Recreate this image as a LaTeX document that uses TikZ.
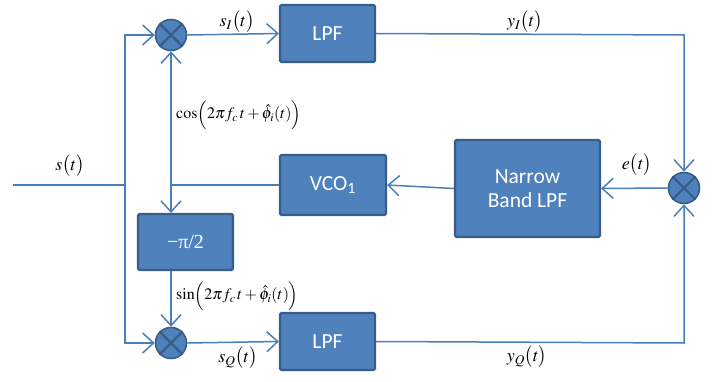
\documentclass[tikz,border=0pt]{standalone}
\usepackage{mathptmx}
\usepackage[no-math]{fontspec}
\setmainfont{Carlito}
\newfontfamily\timesfont{Liberation Serif}
\usetikzlibrary{arrows.meta}
\definecolor{boxfill}{HTML}{4F81BD}
\definecolor{boxedge}{HTML}{385D8A}
\definecolor{wire}{HTML}{4A7EBB}
\tikzset{
  blk/.style={draw=boxedge,fill=boxfill,line width=2.2pt,rounded corners=1.5pt,
    text=white,font=\fontsize{21.5}{24}\selectfont,align=center,inner sep=0pt},
  mixer/.style={circle,draw=boxedge,fill=boxfill,line width=1.6pt,minimum size=31pt,inner sep=0pt},
  cross/.style={draw=boxedge,line width=2.2pt},
  wireline/.style={draw=wire,line width=1.5pt},
  arr/.style={wireline,-{Straight Barb[length=11pt,width=20pt,line width=1.5pt]}},
  lbl/.style={font=\fontsize{18}{20}\selectfont,inner sep=0pt},
  slbl/.style={font=\fontsize{16}{18}\selectfont,inner sep=0pt}
}
\begin{document}
\begin{tikzpicture}[x=1pt,y=-1pt]
\useasboundingbox (0,0) rectangle (713,382);
% mixers, each with its cross
\node[mixer] (m1) at (171,35) {};
\node[mixer] (m2) at (171,343) {};
\node[mixer] (m3) at (684,188) {};
\foreach \m in {m1,m2,m3}{
  \draw[cross] (\m.north west) -- (\m.south east) (\m.north east) -- (\m.south west);
}
% blocks
\node[blk,minimum width=95pt,minimum height=57pt] (lpf1) at (327.5,33.5) {LPF};
\node[blk,minimum width=95pt,minimum height=57pt] (lpf2) at (327.5,341.5) {LPF};
\node[blk,minimum width=106pt,minimum height=60pt] (vco) at (333,185) {VCO\textsubscript{1}};
\node[blk,minimum width=145pt,minimum height=97pt] (nb) at (527.5,188.5) {Narrow\\Band LPF};
\node[blk,minimum width=95pt,minimum height=56pt,font=\timesfont\fontsize{20}{22}\selectfont] (ph) at (185.5,242) {−π/2};
% junction points
\coordinate (in) at (13,185);
\coordinate (split) at (125,185);
\coordinate (top) at (125,35);
\coordinate (bot) at (125,343);
\coordinate (lo) at (171,185);
\coordinate (rt) at (684,35);
\coordinate (rb) at (684,343);
% input and its split
\draw[wireline] (in) -- (split);
\draw[arr] (split) -- (top) -- (m1.west);
\draw[arr] (split) -- (bot) -- (m2.west);
% mixers to filters
\draw[arr] (m1.east) -- (lpf1.west);
\draw[arr] (m2.east) -- (lpf2.west);
% filter outputs to the error mixer
\draw[arr] (lpf1.east) -- (rt) -- (m3.north);
\draw[arr] (lpf2.east) -- (rb) -- (m3.south);
% loop
\draw[arr] (m3.west) -- (nb.east);
\draw[arr] (nb.west) -- (vco.east);
\draw[wireline] (vco.west) -- (lo);
\draw[arr] (lo) -- (m1.south);
\draw[arr] (lo) -- (ph.north -| lo);
\draw[arr] (ph.south -| lo) -- (m2.north);
% labels
\node[lbl] (ls) at (70,166) {$s\bigl(t\bigr)$};
\node[lbl] (lsi) at (237,22) {$s_I\bigl(t\bigr)$};
\node[lbl] (lsq) at (238,358) {$s_Q\bigl(t\bigr)$};
\node[lbl] (lyi) at (525,22) {$y_I\bigl(t\bigr)$};
\node[lbl] (lyq) at (527,357) {$y_Q\bigl(t\bigr)$};
\node[lbl] (le) at (637,165) {$e\bigl(t\bigr)$};
\node[slbl,anchor=west] (lcos) at (176,115) {$\cos\Bigl(2\pi f_c\, t+\hat{\phi}_i(t)\Bigr)$};
\node[slbl,anchor=west] (lsin) at (176,296) {$\sin\Bigl(2\pi f_c\, t+\hat{\phi}_i(t)\Bigr)$};
\end{tikzpicture}
\end{document}
